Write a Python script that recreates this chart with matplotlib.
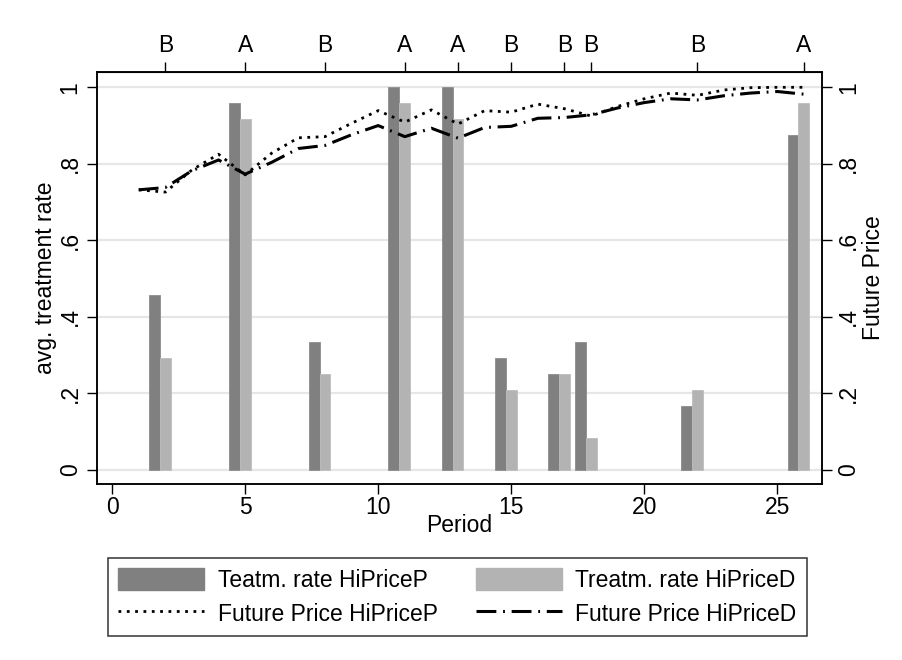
import matplotlib
matplotlib.use('Agg')
import matplotlib.pyplot as plt
from matplotlib.lines import Line2D
from matplotlib.patches import Patch

# Periods where treatment rates are observed, with the treatment label on the top axis
bar_periods = [2, 5, 8, 11, 13, 15, 17, 18, 22, 26]
top_labels = ['B', 'A', 'B', 'A', 'A', 'B', 'B', 'B', 'B', 'A']

# Average treatment rates (left axis)
rate_hipricep = [0.458, 0.958, 0.333, 1.0, 1.0, 0.292, 0.25, 0.333, 0.167, 0.875]
rate_hipriced = [0.292, 0.917, 0.25, 0.958, 0.917, 0.208, 0.25, 0.083, 0.208, 0.958]

# Future price paths (right axis)
periods = [1, 2, 3, 4, 5, 6, 7, 8, 9, 10, 11, 12, 13,
           14, 15, 16, 17, 18, 19, 20, 21, 22, 23, 24, 25, 26]
price_hipricep = [0.732, 0.726, 0.784, 0.825, 0.771, 0.828, 0.868, 0.871, 0.906,
                  0.939, 0.909, 0.941, 0.904, 0.939, 0.935, 0.956, 0.944, 0.925,
                  0.950, 0.970, 0.985, 0.979, 0.993, 0.999, 1.0, 1.0]
price_hipriced = [0.732, 0.738, 0.782, 0.810, 0.773, 0.804, 0.840, 0.848, 0.876,
                  0.900, 0.871, 0.893, 0.867, 0.895, 0.898, 0.919, 0.921, 0.928,
                  0.946, 0.960, 0.970, 0.967, 0.978, 0.985, 0.989, 0.982]

y_ticks = [0, 0.2, 0.4, 0.6, 0.8, 1.0]
y_ticklabels = ['0', '.2', '.4', '.6', '.8', '1']
x_ticks = [0, 5, 10, 15, 20, 25]

DARK = '#808080'
LIGHT = '#b3b3b3'
FS = 16.5

plt.rcParams['font.family'] = ['Liberation Sans', 'DejaVu Sans']


def style_y(ax, side):
    ax.set_ylim(-0.037, 1.04)
    ax.set_yticks(y_ticks)
    ax.set_yticklabels(y_ticklabels, fontsize=FS)
    ax.tick_params(axis='y', length=7, width=1, pad=4)
    for lbl in ax.get_yticklabels():
        lbl.set_rotation(90)
        lbl.set_va('center')
        lbl.set_ha('right' if side == 'left' else 'left')


def main():
    fig = plt.figure(figsize=(9.02, 6.6), dpi=100)
    ax = fig.add_axes([0.1075, 0.2667, 0.8038, 0.6242])

    # Grid lines behind everything
    for y in y_ticks:
        ax.axhline(y, color='#e6e6e6', lw=1.6, zorder=0)

    # Paired bars: HiPriceP to the left of the period, HiPriceD on the period
    w = 0.41
    ax.bar([p - w for p in bar_periods], rate_hipricep, width=w, align='center',
           color=DARK, edgecolor='#8c8c8c', linewidth=0.6, zorder=2)
    ax.bar(bar_periods, rate_hipriced, width=w, align='center',
           color=LIGHT, edgecolor='#bdbdbd', linewidth=0.6, zorder=2)

    ax.set_xlim(-0.57, 26.68)
    ax.set_xticks(x_ticks)
    ax.set_xticklabels([str(t) for t in x_ticks], fontsize=FS)
    ax.tick_params(axis='x', length=7, width=1, pad=2)
    ax.set_xlabel('Period', fontsize=FS, labelpad=-4)
    style_y(ax, 'left')
    ax.set_ylabel('avg. treatment rate', fontsize=FS, labelpad=1)

    # Right axis for the future price lines
    ax2 = ax.twinx()
    dotted = (0, (1, 2))
    dashdot = (0, (6.5, 2.2, 0.6, 2.2))
    ax2.plot(periods, price_hipricep, color='black', lw=2.0, linestyle=dotted,
             dash_capstyle='butt')
    ax2.plot(periods, price_hipriced, color='black', lw=2.2, linestyle=dashdot,
             dash_capstyle='butt')
    style_y(ax2, 'right')
    ax2.set_ylabel('Future Price', fontsize=FS, labelpad=1)

    # Top axis with the treatment labels
    top = ax.secondary_xaxis('top')
    top.set_xticks(bar_periods)
    top.set_xticklabels(top_labels, fontsize=FS)
    top.tick_params(axis='x', length=7, width=1, pad=4)

    for a in (ax, ax2):
        for s in a.spines.values():
            s.set_linewidth(1.1)

    # Legend below the plot
    handles = [
        Patch(facecolor=DARK, edgecolor=DARK),
        Patch(facecolor=LIGHT, edgecolor=LIGHT),
        Line2D([], [], color='black', lw=2.0, linestyle=dotted),
        Line2D([], [], color='black', lw=2.2, linestyle=dashdot),
    ]
    labels = ['Teatm. rate HiPriceP', 'Treatm. rate HiPriceD',
              'Future Price HiPriceP', 'Future Price HiPriceD']
    # order so that ncol=2 fills rows: bars on top row, lines on bottom row
    order = [0, 2, 1, 3]
    leg = fig.legend([handles[i] for i in order], [labels[i] for i in order],
                     ncol=2, loc='center', bbox_to_anchor=(0.507, 0.0955),
                     fontsize=FS, frameon=True, fancybox=False,
                     edgecolor='black', handlelength=3.75, handleheight=1.1,
                     handletextpad=0.6, columnspacing=1.65, borderpad=0.45,
                     labelspacing=0.42)
    leg.get_frame().set_linewidth(1.1)

    fig.savefig('out.png', dpi=100)


if __name__ == "__main__":
    main()
